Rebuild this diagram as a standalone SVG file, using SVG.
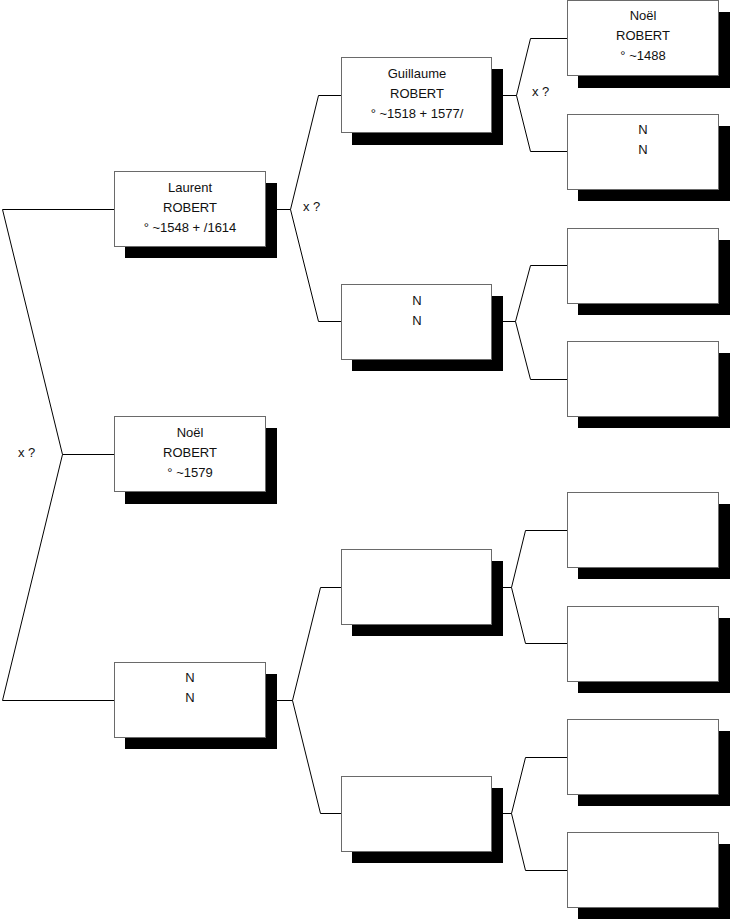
<svg xmlns="http://www.w3.org/2000/svg" width="731" height="920" viewBox="0 0 731 920">
<style>
.bg{fill:#fff}
.sh{fill:#000}
.bx{fill:#fff;stroke:#6a6a6a;stroke-width:1}
.cn{fill:none;stroke:#000;stroke-width:1}
text{font-family:"Liberation Sans",Arial,sans-serif;font-size:13px;fill:#111}
.t{text-anchor:middle}
</style>
<rect class="bg" x="0" y="0" width="731" height="920"/>
<g id="connectors">
<polyline class="cn" points="114,209.5 2.5,209.5 62.5,454.5 2.5,700.5 114,700.5"/>
<line class="cn" x1="62.5" y1="454.5" x2="114" y2="454.5"/>
<polyline class="cn" points="266,209.5 290.5,209.5 318.5,95.5 341,95.5"/>
<polyline class="cn" points="290.5,209.5 318.5,321.5 341,321.5"/>
<polyline class="cn" points="266,700.5 292.5,700.5 320.5,587.5 341,587.5"/>
<polyline class="cn" points="292.5,700.5 320.5,813.5 341,813.5"/>
<polyline class="cn" points="492,95.5 516.5,95.5 530.5,38.5 567,38.5"/>
<polyline class="cn" points="516.5,95.5 530.5,151.5 567,151.5"/>
<polyline class="cn" points="492,321.5 515.5,321.5 530.5,265.5 567,265.5"/>
<polyline class="cn" points="515.5,321.5 530.5,379.5 567,379.5"/>
<polyline class="cn" points="492,587.5 511.5,587.5 525.5,530.5 567,530.5"/>
<polyline class="cn" points="511.5,587.5 525.5,643.5 567,643.5"/>
<polyline class="cn" points="492,813.5 511.5,813.5 525.5,757.5 567,757.5"/>
<polyline class="cn" points="511.5,813.5 525.5,870.5 567,870.5"/>
<text x="18" y="457">x ?</text>
<text x="303" y="211">x ?</text>
<text x="532" y="96">x ?</text>
</g>
<g id="n-laurent">
<rect class="sh" x="125" y="183" width="152" height="75"/>
<rect class="bx" x="114.5" y="171.5" width="151" height="75"/>
<text class="t" x="190" y="192">Laurent</text>
<text class="t" x="190" y="212">ROBERT</text>
<text class="t" x="190" y="232">° ~1548 + /1614</text>
</g>
<g id="n-noel1579">
<rect class="sh" x="125" y="428" width="152" height="76"/>
<rect class="bx" x="114.5" y="416.5" width="151" height="75"/>
<text class="t" x="190" y="437">Noël</text>
<text class="t" x="190" y="457">ROBERT</text>
<text class="t" x="190" y="477">° ~1579</text>
</g>
<g id="n-n1">
<rect class="sh" x="125" y="674" width="152" height="75"/>
<rect class="bx" x="114.5" y="662.5" width="151" height="75"/>
<text class="t" x="190" y="682">N</text>
<text class="t" x="190" y="702">N</text>
</g>
<g id="n-guillaume">
<rect class="sh" x="352" y="69" width="151" height="76"/>
<rect class="bx" x="341.5" y="57.5" width="150" height="75"/>
<text class="t" x="417" y="78">Guillaume</text>
<text class="t" x="417" y="98">ROBERT</text>
<text class="t" x="417" y="118">° ~1518 + 1577/</text>
</g>
<g id="n-n2">
<rect class="sh" x="352" y="296" width="151" height="75"/>
<rect class="bx" x="341.5" y="284.5" width="150" height="75"/>
<text class="t" x="417" y="305">N</text>
<text class="t" x="417" y="325">N</text>
</g>
<g id="n-e1">
<rect class="sh" x="352" y="561" width="151" height="75"/>
<rect class="bx" x="341.5" y="549.5" width="150" height="75"/>
</g>
<g id="n-e2">
<rect class="sh" x="352" y="788" width="151" height="75"/>
<rect class="bx" x="341.5" y="776.5" width="150" height="75"/>
</g>
<g id="n-noel1488">
<rect class="sh" x="578" y="12" width="152" height="76"/>
<rect class="bx" x="567.5" y="0.5" width="151" height="75"/>
<text class="t" x="643" y="20">Noël</text>
<text class="t" x="643" y="40">ROBERT</text>
<text class="t" x="643" y="60">° ~1488</text>
</g>
<g id="n-n3">
<rect class="sh" x="578" y="126" width="152" height="75"/>
<rect class="bx" x="567.5" y="114.5" width="151" height="75"/>
<text class="t" x="643" y="134">N</text>
<text class="t" x="643" y="154">N</text>
</g>
<g id="n-e3">
<rect class="sh" x="578" y="240" width="152" height="75"/>
<rect class="bx" x="567.5" y="228.5" width="151" height="75"/>
</g>
<g id="n-e4">
<rect class="sh" x="578" y="353" width="152" height="75"/>
<rect class="bx" x="567.5" y="341.5" width="151" height="75"/>
</g>
<g id="n-e5">
<rect class="sh" x="578" y="504" width="152" height="75"/>
<rect class="bx" x="567.5" y="492.5" width="151" height="75"/>
</g>
<g id="n-e6">
<rect class="sh" x="578" y="618" width="152" height="75"/>
<rect class="bx" x="567.5" y="606.5" width="151" height="75"/>
</g>
<g id="n-e7">
<rect class="sh" x="578" y="731" width="152" height="75"/>
<rect class="bx" x="567.5" y="719.5" width="151" height="75"/>
</g>
<g id="n-e8">
<rect class="sh" x="578" y="844" width="152" height="75"/>
<rect class="bx" x="567.5" y="832.5" width="151" height="75"/>
</g>
</svg>
